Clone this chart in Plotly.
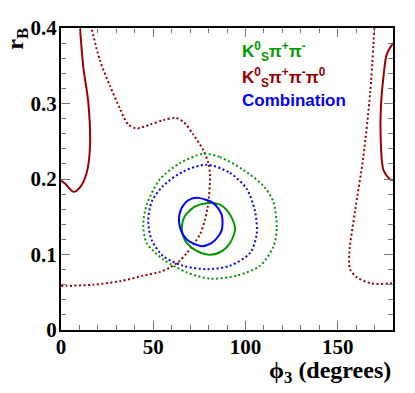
import plotly.graph_objects as go

# contour traces: phi3 (degrees), r_B
kspp_1s_x = [79, 86.2, 91.6, 94.4, 91.6, 86.2, 79.9, 72.7, 67.2, 65.5, 67.2, 72.7, 79]
kspp_1s_y = [0.168, 0.166, 0.153, 0.134, 0.115, 0.103, 0.0998, 0.106, 0.119, 0.134, 0.151, 0.1636, 0.168]
kspp_2s_x = [77.2, 86.2, 98.9, 109.7, 115.1, 117, 115.1, 107.9, 95.3, 80.8, 68.2, 55.5, 46.5, 44.6, 46.5, 53.7, 64.5, 77.2]
kspp_2s_y = [0.2335, 0.229, 0.212, 0.191, 0.170, 0.136, 0.110, 0.085, 0.072, 0.068, 0.0764, 0.0934, 0.115, 0.140, 0.166, 0.200, 0.221, 0.2335]

comb_1s_x = [74.5, 82.6, 87.1, 87.1, 82.6, 76.3, 68.2, 64.5, 64.2, 67.2, 70.9, 74.5]
comb_1s_y = [0.175, 0.168, 0.153, 0.132, 0.117, 0.111, 0.120, 0.136, 0.153, 0.168, 0.174, 0.175]
comb_2s_x = [79, 91.6, 100.7, 105.2, 106.1, 102.5, 91.6, 79, 66.3, 55.5, 49.2, 47.3, 49.2, 55.5, 66.3, 79]
comb_2s_y = [0.219, 0.208, 0.187, 0.157, 0.127, 0.102, 0.085, 0.0806, 0.085, 0.0977, 0.119, 0.144, 0.170, 0.191, 0.210, 0.219]

ksppp_1s_left_x = [10.3, 12.1, 14.8, 15.7, 13.9, 10.3, 6.7, 2.2, 0]
ksppp_1s_left_y = [0.400, 0.348, 0.3015, 0.242, 0.208, 0.189, 0.183, 0.194, 0.198]
ksppp_1s_right_x = [180, 176.6, 174.8, 173.4, 173.5, 174.8, 178.4, 180]
ksppp_1s_right_y = [0.38, 0.365, 0.335, 0.293, 0.242, 0.212, 0.1996, 0.199]
ksppp_2s_x = [0, 3.1, 17.5, 32, 44.6, 53.7, 59.1, 63.6, 68.2, 75.4, 79.4, 80.8, 79.9, 77.2,
              71.7, 66.3, 61.8, 55.5, 48.3, 41, 36.5, 32, 26.6, 21.1, 16.6]
ksppp_2s_y = [0.0586, 0.0586, 0.060, 0.0646, 0.072, 0.077, 0.0828, 0.090, 0.102, 0.127, 0.161, 0.204, 0.221, 0.238,
              0.259, 0.276, 0.281, 0.278, 0.272, 0.267, 0.272, 0.293, 0.323, 0.357, 0.400]
ksppp_2s_right_x = [169.9, 167.6, 163.9, 159.4, 156.3, 156.7, 160.3, 168.5, 178.4, 180]
ksppp_2s_right_y = [0.400, 0.314, 0.229, 0.157, 0.102, 0.0806, 0.070, 0.0616, 0.0616, 0.062]

y_ticks = [0, 0.1, 0.2, 0.3, 0.4]
y_tick_text = ["0", "0.1", "0.2", "0.3", "0.4"]

GREEN = "#009a00"
RED = "#990000"
BLUE = "#0000ff"
DOT = "2px,2.5px"

fig = go.Figure()

def add(x, y, color, dash=None):
    line = dict(color=color, width=2, shape="spline", smoothing=0.8)
    if dash:
        line["dash"] = dash
    fig.add_trace(go.Scatter(x=x, y=y, mode="lines", line=line, showlegend=False, hoverinfo="skip"))

add(ksppp_2s_x, ksppp_2s_y, RED, DOT)
add(ksppp_2s_right_x, ksppp_2s_right_y, RED, DOT)
add(ksppp_1s_left_x, ksppp_1s_left_y, RED)
add(ksppp_1s_right_x, ksppp_1s_right_y, RED)
add(kspp_2s_x, kspp_2s_y, GREEN, DOT)
add(comb_2s_x, comb_2s_y, BLUE, DOT)
add(kspp_1s_x, kspp_1s_y, GREEN)
add(comb_1s_x, comb_1s_y, BLUE)

tickfont = dict(family="Liberation Serif", size=21, color="black", weight="bold")
axis = dict(showgrid=False, zeroline=False, showline=True, linecolor="black", linewidth=2,
            mirror="allticks", ticks="inside", ticklen=9, tickwidth=1, tickcolor="#777",
            tickfont=tickfont, ticklabeloverflow="allow")

fig.update_xaxes(range=[0, 180], dtick=50, tick0=0, ticklabelstandoff=-3,
                 minor=dict(dtick=10, ticks="inside", ticklen=5, tickcolor="#777"), **axis)
fig.update_yaxes(range=[0, 0.4], tickvals=y_ticks, ticktext=y_tick_text, ticklabelstandoff=-2,
                 minor=dict(dtick=0.02, ticks="inside", ticklen=5, tickcolor="#777"), **axis)

legend_font = dict(family="Liberation Sans", size=17)
for text, color, yy in [("K<sup>0</sup><sub>S</sub>π<sup>+</sup>π<sup>-</sup>", GREEN, 0.369),
                        ("K<sup>0</sup><sub>S</sub>π<sup>+</sup>π<sup>-</sup>π<sup>0</sup>", RED, 0.334),
                        ("Combination", BLUE, 0.304)]:
    fig.add_annotation(x=97, y=yy, xref="x", yref="y", text="<b>" + text + "</b>", showarrow=False,
                       xanchor="left", yanchor="middle", font=dict(color=color, **legend_font))

title_font = dict(family="Liberation Serif", size=24, color="black", weight="bold")
fig.add_annotation(x=-0.135, y=0.965, xref="paper", yref="paper", text="r<sub>B</sub>", textangle=-90,
                   showarrow=False, xanchor="center", yanchor="middle", font=title_font)
fig.add_annotation(x=1.0, y=-0.14, xref="paper", yref="paper", text="ϕ<sub>3</sub> (degrees)",
                   showarrow=False, xanchor="right", yanchor="middle", font=title_font)

# page draws the figure 8px in from the top-left corner
fig.update_layout(width=415, height=393, margin=dict(l=53, r=30, t=8, b=71),
                  plot_bgcolor="white", paper_bgcolor="white")

fig.write_html("out.html")
